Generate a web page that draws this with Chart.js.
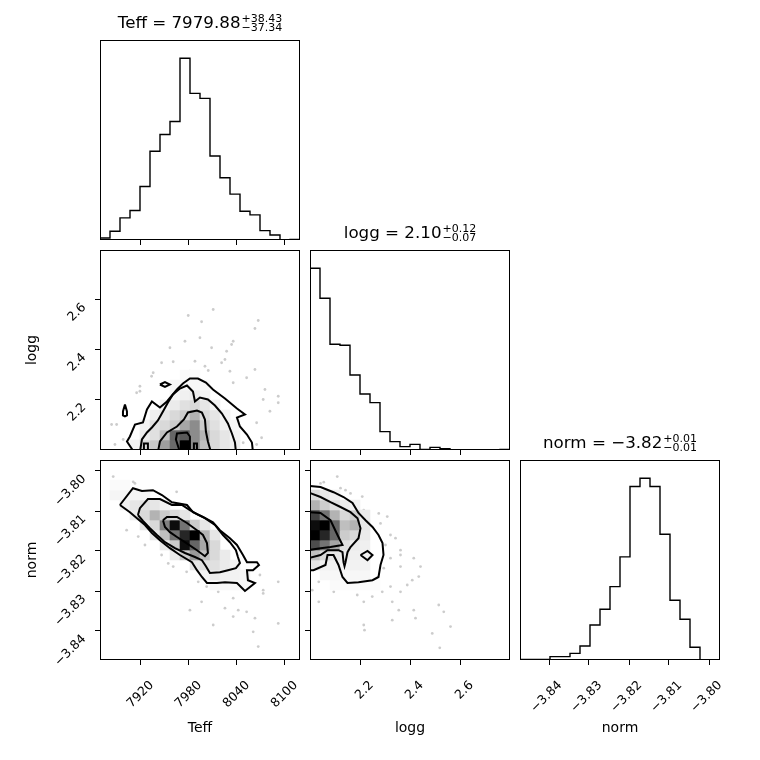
<!DOCTYPE html>
<html>
<head>
<meta charset="utf-8">
<title>corner plot</title>
<script src="https://cdn.jsdelivr.net/npm/chart.js@4.4.1/dist/chart.umd.min.js"></script>
<style>
  body { margin: 0; width: 760px; height: 760px; background: #fff; position: relative; overflow: hidden; font-family: "DejaVu Sans", sans-serif; }
  canvas { position: absolute; }
  .ttl { position: absolute; width: 200px; text-align: center; font-size: 16.7px; line-height: 20px; white-space: nowrap; color: #000; }
  .ss { display: inline-block; font-size: 11px; line-height: 8.4px; text-align: left; margin-left: 1px; position: relative; top: 3px; }
  .ss span { display: block; }
</style>
</head>
<body>
<script>
Chart.defaults.font.family = '"DejaVu Sans", sans-serif';
Chart.defaults.color = "#000";

const NBINS = 20;
const PANEL = 200, PAD_L = 100, PAD_B = 100, PAD_T = 40, PAD_R = 40;

// titles
const paramNames = ["Teff", "logg", "norm"];
const medians = ["7979.88", "2.10", "\u22123.82"];
const errPlus = ["+38.43", "+0.12", "+0.01"];
const errMinus = ["\u221237.34", "\u22120.07", "\u22120.01"];

// axis ranges and ticks
const teffRange = [7869.1, 8119.1];
const loggRange = [1.998, 2.798];
const normRange = [-3.84725, -3.79725];
const teffTicks = [7920, 7980, 8040, 8100];
const loggTicks = [2.2, 2.4, 2.6];
const normTicks = [-3.84, -3.83, -3.82, -3.81, -3.8];

// 1D histograms (20 bins each)
const teffCounts = [6, 26, 66, 88, 160, 265, 315, 354, 543, 438, 423, 251, 186, 137, 86, 75, 28, 15, 0, 2];
const loggCounts = [545, 455, 317, 314, 225, 168, 142, 55, 25, 10, 17, 2, 8, 4, 0, 0, 0, 0, 0, 2];
const normCounts = [2, 2, 2, 10, 10, 20, 42, 105, 152, 220, 309, 520, 545, 520, 377, 179, 122, 38, 1, 1];

// 2D density shades (0-100), rows go upward from the given first row
const teffLoggRow0 = 0;
const teffLoggShade = [
  [0, 0, 0, 5, 15, 22, 38, 58, 100, 45, 25, 15, 10, 7, 0, 0, 0, 0, 0, 0],
  [0, 0, 0, 0, 8, 12, 25, 60, 65, 45, 30, 15, 10, 5, 0, 0, 0, 0, 0, 0],
  [0, 0, 0, 0, 5, 12, 15, 20, 35, 45, 20, 12, 6, 3, 0, 0, 0, 0, 0, 0],
  [0, 0, 0, 0, 0, 6, 10, 15, 20, 30, 15, 10, 5, 0, 0, 0, 0, 0, 0, 0],
  [0, 0, 0, 0, 0, 0, 5, 8, 12, 15, 10, 5, 0, 0, 0, 0, 0, 0, 0, 0],
  [0, 0, 0, 0, 0, 0, 0, 4, 6, 8, 5, 0, 0, 0, 0, 0, 0, 0, 0, 0],
  [0, 0, 0, 0, 0, 0, 0, 3, 3, 3, 3, 0, 0, 0, 0, 0, 0, 0, 0, 0],
  [0, 0, 0, 0, 0, 0, 0, 0, 2, 2, 0, 0, 0, 0, 0, 0, 0, 0, 0, 0],
];
const teffNormRow0 = 7;
const teffNormShade = [
  [0, 0, 0, 0, 0, 0, 0, 0, 0, 0, 0, 3, 3, 3, 3, 0, 0, 0, 0, 0],
  [0, 0, 0, 0, 0, 0, 0, 0, 0, 0, 5, 8, 6, 5, 4, 0, 0, 0, 0, 0],
  [0, 0, 0, 0, 0, 0, 0, 0, 0, 10, 12, 12, 8, 5, 0, 0, 0, 0, 0, 0],
  [0, 0, 0, 0, 0, 0, 0, 8, 20, 40, 25, 15, 8, 0, 0, 0, 0, 0, 0, 0],
  [0, 0, 0, 0, 0, 0, 10, 20, 95, 60, 35, 15, 0, 0, 0, 0, 0, 0, 0, 0],
  [0, 0, 0, 0, 0, 10, 25, 55, 85, 100, 30, 10, 0, 0, 0, 0, 0, 0, 0, 0],
  [0, 0, 0, 0, 10, 15, 50, 95, 55, 20, 10, 0, 0, 0, 0, 0, 0, 0, 0, 0],
  [0, 0, 0, 8, 15, 30, 20, 15, 10, 0, 0, 0, 0, 0, 0, 0, 0, 0, 0, 0],
  [0, 0, 5, 10, 12, 10, 5, 0, 0, 0, 0, 0, 0, 0, 0, 0, 0, 0, 0, 0],
  [0, 4, 4, 4, 4, 0, 0, 0, 0, 0, 0, 0, 0, 0, 0, 0, 0, 0, 0, 0],
  [0, 2, 2, 0, 0, 0, 0, 0, 0, 0, 0, 0, 0, 0, 0, 0, 0, 0, 0, 0],
];
const loggNormRow0 = 7;
const loggNormShade = [
  [0, 0, 2, 2, 2, 2, 2, 0, 0, 0, 0, 0, 0, 0, 0, 0, 0, 0, 0, 0],
  [0, 3, 3, 3, 3, 3, 0, 0, 0, 0, 0, 0, 0, 0, 0, 0, 0, 0, 0, 0],
  [10, 5, 5, 5, 5, 5, 0, 0, 0, 0, 0, 0, 0, 0, 0, 0, 0, 0, 0, 0],
  [25, 15, 10, 8, 6, 5, 0, 0, 0, 0, 0, 0, 0, 0, 0, 0, 0, 0, 0, 0],
  [70, 55, 35, 12, 8, 6, 0, 0, 0, 0, 0, 0, 0, 0, 0, 0, 0, 0, 0, 0],
  [100, 85, 60, 20, 15, 8, 0, 0, 0, 0, 0, 0, 0, 0, 0, 0, 0, 0, 0, 0],
  [95, 100, 60, 25, 30, 10, 0, 0, 0, 0, 0, 0, 0, 0, 0, 0, 0, 0, 0, 0],
  [75, 55, 30, 15, 20, 8, 0, 0, 0, 0, 0, 0, 0, 0, 0, 0, 0, 0, 0, 0],
  [30, 20, 12, 8, 5, 0, 0, 0, 0, 0, 0, 0, 0, 0, 0, 0, 0, 0, 0, 0],
  [15, 10, 6, 0, 0, 0, 0, 0, 0, 0, 0, 0, 0, 0, 0, 0, 0, 0, 0, 0],
];

// contour lines (2, 1.5, 1, 0.5 sigma and islands)
const teffLoggContours = [
  [[7911.5, 1.99], [7902.8, 2.032], [7906.5, 2.052], [7912.8, 2.1], [7922.8, 2.108], [7927.8, 2.16], [7934, 2.192], [7944, 2.168], [7952.8, 2.192], [7965.3, 2.24], [7972.8, 2.264], [7981.5, 2.284], [7991.5, 2.284], [8001.5, 2.268], [8010.3, 2.24], [8025.3, 2.204], [8040.3, 2.164], [8050.3, 2.14], [8040.3, 2.128], [8044, 2.092], [8052.8, 2.06], [8059, 2.028], [8060.3, 1.99]],
  [[7919, 1.99], [7921.5, 2.04], [7927.8, 2.068], [7934, 2.088], [7941.5, 2.116], [7947.8, 2.152], [7954, 2.188], [7960.3, 2.22], [7969, 2.244], [7977.8, 2.256], [7985.3, 2.232], [7987.8, 2.192], [7994, 2.208], [8004, 2.2], [8012.8, 2.176], [8021.5, 2.144], [8029, 2.104], [8034, 2.064], [8037.8, 2.028], [8039, 1.99]],
  [[7941.5, 1.99], [7944, 2.032], [7952.8, 2.068], [7965.3, 2.092], [7974, 2.12], [7979, 2.148], [7990.3, 2.156], [7996.5, 2.148], [8000.3, 2.12], [8001.5, 2.072], [8004, 2.032], [8007.8, 1.99]],
  [[7969, 1.99], [7964, 2.04], [7965.3, 2.064], [7977.8, 2.068], [7981.5, 2.052], [7981.5, 1.99]],
  [[7924, 1.99], [7924, 2.024], [7929, 2.024], [7929, 1.99]],
  [[7986.5, 1.99], [7986.5, 2.024], [7990.3, 2.024], [7990.3, 1.99]],
  [[7900.3, 2.18], [7902.8, 2.152], [7902.8, 2.136], [7900.3, 2.132], [7897.8, 2.136], [7897.8, 2.152], [7900.3, 2.18]],
  [[7944, 2.26], [7950.3, 2.27], [7956.5, 2.26], [7950.3, 2.25], [7944, 2.26]],
];
const teffNormContours = [
  [[7894, -3.8085], [7910.3, -3.8043], [7921.5, -3.805], [7935.3, -3.8048], [7946.5, -3.806], [7959, -3.8078], [7977.8, -3.8085], [7985.3, -3.8103], [7997.8, -3.8115], [8010.3, -3.8128], [8019, -3.8148], [8031.5, -3.8168], [8040.3, -3.8185], [8047.8, -3.821], [8052.8, -3.8228], [8065.3, -3.8228], [8067.8, -3.8235], [8060.3, -3.8248], [8052.8, -3.8248], [8054, -3.8273], [8062.8, -3.828], [8050.3, -3.83], [8040.3, -3.828], [8025.3, -3.8278], [8015.3, -3.828], [8002.8, -3.828], [7996.5, -3.8265], [7990.3, -3.8248], [7984, -3.8228], [7969, -3.821], [7956.5, -3.8193], [7944, -3.8173], [7934, -3.8155], [7925.3, -3.8135], [7915.3, -3.8118], [7906.5, -3.8103], [7894, -3.8085]],
  [[7916.5, -3.811], [7919, -3.8093], [7929, -3.807], [7944, -3.807], [7959, -3.8085], [7971.5, -3.8085], [7981.5, -3.8098], [7990.3, -3.8108], [8000.3, -3.8118], [8012.8, -3.8135], [8022.8, -3.816], [8031.5, -3.8178], [8039, -3.8198], [8041.5, -3.8215], [8044, -3.823], [8039, -3.8243], [8029, -3.8248], [8019, -3.8253], [8006.5, -3.8255], [8001.5, -3.8238], [7996.5, -3.8223], [7987.8, -3.8215], [7975.3, -3.8205], [7962.8, -3.8193], [7950.3, -3.8178], [7940.3, -3.816], [7931.5, -3.8143], [7922.8, -3.8125], [7916.5, -3.811]],
  [[7947.8, -3.8123], [7952.8, -3.8115], [7965.3, -3.8115], [7977.8, -3.813], [7990.3, -3.8148], [7997.8, -3.816], [8002.8, -3.818], [8004, -3.8205], [8000.3, -3.8213], [7990.3, -3.8198], [7975.3, -3.8178], [7965.3, -3.8165], [7956.5, -3.8153], [7950.3, -3.814], [7947.8, -3.8123]],
];
const loggNormContours = [
  [[1.99, -3.8037], [2.04, -3.804], [2.092, -3.8053], [2.132, -3.8065], [2.168, -3.808], [2.192, -3.8105], [2.22, -3.8123], [2.248, -3.814], [2.272, -3.816], [2.288, -3.818], [2.292, -3.821], [2.28, -3.8235], [2.272, -3.8265], [2.248, -3.8273], [2.192, -3.8278], [2.148, -3.828], [2.128, -3.8265], [2.112, -3.8235], [2.092, -3.821], [2.068, -3.821], [2.06, -3.8235], [2.012, -3.8248], [1.99, -3.8248]],
  [[1.99, -3.8053], [2.04, -3.8065], [2.08, -3.8078], [2.12, -3.809], [2.16, -3.8103], [2.188, -3.8118], [2.2, -3.8143], [2.192, -3.8168], [2.16, -3.819], [2.148, -3.8203], [2.14, -3.8228], [2.136, -3.8238], [2.132, -3.8228], [2.128, -3.8203], [2.112, -3.8198], [2.068, -3.8198], [2.04, -3.821], [1.99, -3.8218]],
  [[1.99, -3.8103], [2.04, -3.8105], [2.08, -3.8123], [2.108, -3.816], [2.128, -3.8185], [2.08, -3.819], [2.04, -3.8193], [1.99, -3.8198]],
  [[2.2, -3.821], [2.228, -3.82], [2.248, -3.821], [2.228, -3.8223], [2.2, -3.821]],
];

// samples outside the lowest contour
const teffLoggPoints = [
  [7979.4, 2.536], [8010.6, 2.56], [7996.1, 2.511], [8066.9, 2.516], [8062.8, 2.484], [7956.5, 2.407], [7975.3, 2.433],
  [7994, 2.447], [8008.6, 2.407], [8033.6, 2.42], [8035.6, 2.433], [8027.4, 2.393], [8025.3, 2.36], [8021.1, 2.347],
  [8004.4, 2.316], [7960.6, 2.351], [7946.1, 2.347], [7935.6, 2.307], [7933.6, 2.293], [7919, 2.253], [7919, 2.233],
  [7914.9, 2.227], [8052.4, 2.287], [8062.8, 2.32], [8075.3, 2.24], [8091.9, 2.213], [8081.5, 2.153], [8091.9, 2.187],
  [8064.9, 2.107], [8071.1, 2.047], [7889.9, 2.1], [7883.6, 2.1], [7898.1, 2.04], [7887.8, 2.02], [8064.9, 2.02],
  [8048.1, 2.027], [8000.3, 2.333], [7987.8, 2.353], [7981.5, 2.313], [8031.5, 2.313], [8035.6, 2.267], [8073.1, 2.2],
];
const teffNormPoints = [
  [7885.6, -3.8014], [7894, -3.8031], [7898.1, -3.8035], [7910.6, -3.8027], [7912.8, -3.8031], [7964.9, -3.8052],
  [7887.8, -3.8068], [7902.4, -3.8148], [7916.9, -3.8164], [7925.3, -3.8185], [7946.1, -3.821], [7954.4, -3.8231],
  [7960.6, -3.8239], [7977.4, -3.8252], [7991.9, -3.8277], [8002.4, -3.8289], [8016.9, -3.8302], [7981.5, -3.8348],
  [7996.1, -3.8327], [8010.6, -3.8385], [8025.3, -3.8343], [8035.6, -3.8318], [8035.6, -3.8364], [8041.9, -3.8348],
  [8052.4, -3.8352], [8062.8, -3.8368], [8073.1, -3.8298], [8073.1, -3.8306], [8069, -3.826], [8091.9, -3.8277],
  [8091.9, -3.8381], [8060.6, -3.8402], [8066.9, -3.8439], [8052.4, -3.8289],
];
const loggNormPoints = [
  [2.04, -3.8031], [2.053, -3.8028], [2.107, -3.8014], [2.12, -3.8043], [2.14, -3.8048], [2.16, -3.8056], [2.207, -3.8064],
  [2.213, -3.8098], [2.227, -3.811], [2.273, -3.8106], [2.307, -3.8114], [2.28, -3.8131], [2.32, -3.816], [2.34, -3.8168],
  [2.3, -3.8185], [2.36, -3.8198], [2.36, -3.821], [2.413, -3.8218], [2.44, -3.8239], [2.433, -3.8264], [2.407, -3.8273],
  [2.387, -3.8285], [2.36, -3.8302], [2.32, -3.8289], [2.287, -3.8302], [2.247, -3.8314], [2.227, -3.8289], [2.213, -3.8327],
  [2.187, -3.831], [2.147, -3.8293], [2.1, -3.8277], [2.067, -3.8268], [2.033, -3.8277], [2.007, -3.8298], [2.033, -3.8327],
  [2.093, -3.8302], [2.127, -3.8289], [2.327, -3.8327], [2.353, -3.8348], [2.413, -3.8348], [2.42, -3.8368], [2.327, -3.8373],
  [2.513, -3.8335], [2.533, -3.8352], [2.56, -3.8389], [2.487, -3.8406], [2.517, -3.8442], [2.213, -3.8385], [2.216, -3.8398],
  [2.36, -3.8239], [2.32, -3.8218], [2.293, -3.8243],
];

const fmtTeff = (v) => String(v);
const fmtLogg = (v) => v.toFixed(1);
const fmtNorm = (v) => v.toFixed(2).replace("-", "\u2212");

const frame = {
  id: "frame",
  afterDatasetsDraw(chart) {
    const { ctx, chartArea: a } = chart;
    ctx.save();
    ctx.strokeStyle = "#000";
    ctx.lineWidth = 1;
    ctx.strokeRect(Math.round(a.left) + 0.5, Math.round(a.top) + 0.5, Math.round(a.width) - 1, Math.round(a.height) - 1);
    ctx.restore();
  },
};

const binEdges = (r) => {
  const w = (r[1] - r[0]) / NBINS;
  return Array.from({ length: NBINS + 1 }, (_, k) => r[0] + k * w);
};

const stepData = (counts, r) => {
  const e = binEdges(r);
  const pts = [{ x: e[0], y: 0 }];
  counts.forEach((c, k) => pts.push({ x: e[k], y: c }));
  pts.push({ x: e[NBINS], y: counts[NBINS - 1] }, { x: e[NBINS], y: 0 });
  return pts;
};

const cellData = (rows, row0, rx, ry) => {
  const wx = (rx[1] - rx[0]) / NBINS, wy = (ry[1] - ry[0]) / NBINS;
  const out = [];
  rows.forEach((row, r) =>
    row.forEach((s, i) => {
      if (s > 0) out.push({ x: rx[0] + (i + 0.5) * wx, y: ry[0] + (row0 + r + 0.5) * wy, s });
    })
  );
  return out;
};

const shade = (s) => {
  const g = Math.round(255 * (1 - s / 100));
  return "rgb(" + g + "," + g + "," + g + ")";
};

const cellRadius = (chart) => {
  const s = chart.scales.x;
  const px = Math.abs(s.getPixelForValue(s.min + (s.max - s.min) / NBINS) - s.getPixelForValue(s.min));
  return (px + 0.6) * Math.SQRT1_2;
};

const xy = (pts) => pts.map(([x, y]) => ({ x, y }));

const histSet = (counts, range) => ({
  data: stepData(counts, range), showLine: true, stepped: "before",
  pointRadius: 0, borderColor: "#000", borderWidth: 1.4, fill: false,
});
const lineSets = (polys) => polys.map((p) => ({
  data: xy(p), showLine: true, pointRadius: 0, borderColor: "#000", borderWidth: 2, fill: false, order: 0,
}));
const cellSet = (rows, row0, rx, ry) => ({
  data: cellData(rows, row0, rx, ry), pointStyle: "rect", borderWidth: 0, pointBorderWidth: 0, order: 1,
  pointBackgroundColor: (c) => shade(c.raw ? c.raw.s : 0),
  pointRadius: (c) => cellRadius(c.chart),
});
const dotSet = (pts) => ({
  data: xy(pts), pointRadius: 1.4, borderWidth: 0, pointBorderWidth: 0,
  pointBackgroundColor: "rgba(0,0,0,0.2)", order: 2,
});

const xAxis = (range, ticks, fmt, title) => ({
  type: "linear", position: "bottom", min: range[0], max: range[1],
  afterFit: (s) => { s.height = PAD_B; },
  afterBuildTicks: (s) => { s.ticks = ticks.map((v) => ({ value: v })); },
  border: { display: false },
  grid: { drawOnChartArea: false, drawTicks: true, tickLength: 5, tickColor: "#000", tickWidth: 1 },
  ticks: {
    display: !!fmt, autoSkip: false, minRotation: 45, maxRotation: 45, padding: 13, labelOffset: 11,
    font: { size: 12.5 }, callback: (v) => (fmt ? fmt(v) : ""),
  },
  title: { display: !!title, text: title, font: { size: 14 }, padding: { top: 0, bottom: 23 } },
});

const yAxis = (range, ticks, fmt, title) => ({
  type: "linear", position: "left", min: range[0], max: range[1],
  afterFit: (s) => { s.width = PAD_L; },
  afterBuildTicks: (s) => { s.ticks = ticks.map((v) => ({ value: v })); },
  border: { display: false },
  grid: { drawOnChartArea: false, drawTicks: true, tickLength: 5, tickColor: "#000", tickWidth: 1 },
  ticks: {
    display: !!fmt, autoSkip: false, minRotation: 45, maxRotation: 45, padding: 11, labelOffset: 6,
    font: { size: 12.5 }, callback: (v) => (fmt ? fmt(v) : ""),
  },
  title: { display: !!title, text: title, font: { size: 14 }, padding: { top: 24, bottom: 0 } },
});

const histY = (counts) => ({
  type: "linear", min: 0, max: 1.1 * Math.max(...counts),
  afterFit: (s) => { s.width = PAD_L; },
  border: { display: false }, grid: { display: false }, ticks: { display: false },
});

const panel = (left, top, datasets, scales) => {
  const c = document.createElement("canvas");
  const w = PAD_L + PANEL + PAD_R, h = PAD_T + PANEL + PAD_B;
  c.width = w;
  c.height = h;
  c.style.left = left - PAD_L + "px";
  c.style.top = top - PAD_T + "px";
  c.style.width = w + "px";
  c.style.height = h + "px";
  document.body.appendChild(c);
  return new Chart(c, {
    type: "scatter",
    data: { datasets },
    options: {
      responsive: false,
      animation: false,
      events: [],
      layout: { padding: { left: 0, bottom: 0, top: PAD_T, right: PAD_R } },
      plugins: { legend: { display: false }, tooltip: { enabled: false } },
      scales,
    },
    plugins: [frame],
  });
};

// diagonal: 1D histograms
panel(100, 40, [histSet(teffCounts, teffRange)], { x: xAxis(teffRange, teffTicks, null, ""), y: histY(teffCounts) });
panel(310, 250, [histSet(loggCounts, loggRange)], { x: xAxis(loggRange, loggTicks, null, ""), y: histY(loggCounts) });
panel(520, 460, [histSet(normCounts, normRange)], { x: xAxis(normRange, normTicks, fmtNorm, "norm"), y: histY(normCounts) });

// lower triangle: 2D histograms
panel(100, 250, [
  ...lineSets(teffLoggContours),
  cellSet(teffLoggShade, teffLoggRow0, teffRange, loggRange),
  dotSet(teffLoggPoints),
], { x: xAxis(teffRange, teffTicks, null, ""), y: yAxis(loggRange, loggTicks, fmtLogg, "logg") });

panel(100, 460, [
  ...lineSets(teffNormContours),
  cellSet(teffNormShade, teffNormRow0, teffRange, normRange),
  dotSet(teffNormPoints),
], { x: xAxis(teffRange, teffTicks, fmtTeff, "Teff"), y: yAxis(normRange, normTicks, fmtNorm, "norm") });

panel(310, 460, [
  ...lineSets(loggNormContours),
  cellSet(loggNormShade, loggNormRow0, loggRange, normRange),
  dotSet(loggNormPoints),
], { x: xAxis(loggRange, loggTicks, fmtLogg, "logg"), y: yAxis(normRange, normTicks, null, "") });

// titles above the diagonal panels
[[100, 11.5], [310, 221.5], [520, 431.5]].forEach(([left, top], k) => {
  const d = document.createElement("div");
  d.className = "ttl";
  d.style.left = left + "px";
  d.style.top = top + "px";
  d.textContent = paramNames[k] + " = " + medians[k];
  const ss = document.createElement("span");
  ss.className = "ss";
  const up = document.createElement("span");
  up.textContent = errPlus[k];
  const dn = document.createElement("span");
  dn.textContent = errMinus[k];
  ss.append(up, dn);
  d.appendChild(ss);
  document.body.appendChild(d);
});
</script>
</body>
</html>
